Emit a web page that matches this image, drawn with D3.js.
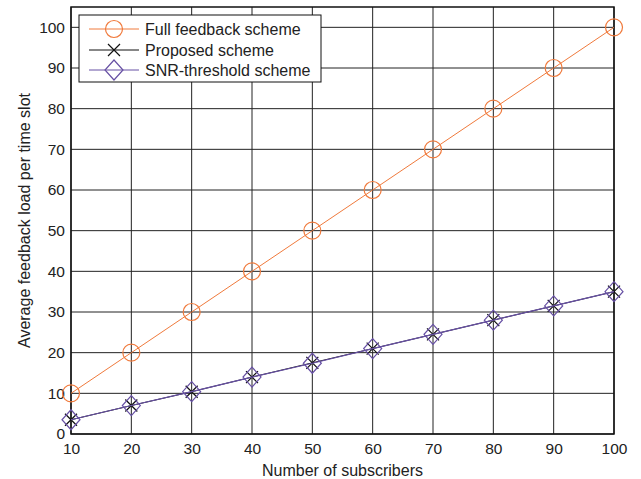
<!DOCTYPE html>
<html><head><meta charset="utf-8">
<script src="https://cdn.jsdelivr.net/npm/d3@7"></script>
<style>body{margin:0;background:#fff}text{font-family:"Liberation Sans",Arial,sans-serif}</style>
</head><body><svg id="c" width="641" height="479"></svg>
<script>
const subscribers = [10,20,30,40,50,60,70,80,90,100];
const fullFeedback = [10,20,30,40,50,60,70,80,90,100];
const proposed = [3.5,7,10.4,14,17.5,21,24.5,28,31.5,35];
const snrThreshold = [3.5,7,10.4,14,17.4,21,24.5,28,31.5,35];
const xTicks = [10,20,30,40,50,60,70,80,90,100];
const yTicks = [0,10,20,30,40,50,60,70,80,90,100];
const seriesNames = ["Full feedback scheme","Proposed scheme","SNR-threshold scheme"];

const svg = d3.select("#c");
const L=71,R=614,T=7,B=434;
const x = d3.scaleLinear().domain([10,100]).range([L,R]);
const y = d3.scaleLinear().domain([0,105]).range([B,T]);
const orange="#f07a3c", purple="#6750a4", black="#111";

svg.append("rect").attr("x",0).attr("y",0).attr("width",641).attr("height",479).attr("fill","#fff");
// grid
const g = svg.append("g");
g.selectAll(".gx").data(xTicks).join("line").attr("x1",d=>x(d)).attr("x2",d=>x(d)).attr("y1",T).attr("y2",B).attr("stroke","#222").attr("stroke-width",1);
g.selectAll(".gy").data(yTicks).join("line").attr("x1",L).attr("x2",R).attr("y1",d=>y(d)).attr("y2",d=>y(d)).attr("stroke","#222").attr("stroke-width",1);
// axes
const xa = svg.append("g").attr("transform",`translate(0,${B})`).call(d3.axisBottom(x).tickValues(xTicks).tickSize(0).tickPadding(9));
const ya = svg.append("g").attr("transform",`translate(${L},0)`).call(d3.axisLeft(y).tickValues(yTicks).tickSize(0).tickPadding(6));
[xa,ya].forEach(a=>{a.select(".domain").remove();a.selectAll("text").attr("font-size",15.5).attr("fill","#222").attr("font-family","Liberation Sans, Arial, sans-serif");});
svg.append("rect").attr("x",L).attr("y",T).attr("width",R-L).attr("height",B-T).attr("fill","none").attr("stroke","#111").attr("stroke-width",1.5);

const line = d3.line().x((d,i)=>x(subscribers[i])).y(d=>y(d));
function cross(sel,cx,cy,s){sel.append("path").attr("d",`M${cx-s},${cy-s}L${cx+s},${cy+s}M${cx-s},${cy+s}L${cx+s},${cy-s}`).attr("stroke",black).attr("stroke-width",1.2).attr("fill","none");}
function diamond(sel,cx,cy){sel.append("path").attr("d",`M${cx},${cy-10}L${cx+9},${cy}L${cx},${cy+10}L${cx-9},${cy}Z`).attr("stroke",purple).attr("stroke-width",1.2).attr("fill","none");}
function circ(sel,cx,cy){sel.append("circle").attr("cx",cx).attr("cy",cy).attr("r",8.5).attr("stroke",orange).attr("stroke-width",1.2).attr("fill","none");}

const p = svg.append("g");
p.append("path").attr("d",line(fullFeedback)).attr("stroke",orange).attr("stroke-width",1).attr("fill","none");
fullFeedback.forEach((v,i)=>circ(p,x(subscribers[i]),y(v)));
p.append("path").attr("d",line(proposed)).attr("stroke",black).attr("stroke-width",1).attr("fill","none");
proposed.forEach((v,i)=>cross(p,x(subscribers[i]),y(v),6));
p.append("path").attr("d",line(snrThreshold)).attr("stroke",purple).attr("stroke-width",1.2).attr("fill","none");
snrThreshold.forEach((v,i)=>diamond(p,x(subscribers[i]),y(v)));

// legend
const lg = svg.append("g");
lg.append("rect").attr("x",79).attr("y",15).attr("width",242).attr("height",67).attr("fill","#fff").attr("stroke","#111").attr("stroke-width",1);
const ly=[29,50,70];
const cols=[orange,black,purple];
seriesNames.forEach((n,i)=>{
  lg.append("line").attr("x1",89).attr("x2",139).attr("y1",ly[i]).attr("y2",ly[i]).attr("stroke",cols[i]).attr("stroke-width",1);
  if(i===0) circ(lg,114,ly[i]); else if(i===1) cross(lg,114,ly[i],6); else diamond(lg,114,ly[i]);
  lg.append("text").attr("x",145).attr("y",ly[i]+6).attr("font-size",16).attr("fill","#222").text(n);
});
svg.append("text").attr("x",(L+R)/2).attr("y",476).attr("text-anchor","middle").attr("font-size",16).attr("fill","#222").text("Number of subscribers");
svg.append("text").attr("transform",`translate(30,${(T+B)/2}) rotate(-90)`).attr("text-anchor","middle").attr("font-size",16).attr("fill","#222").text("Average feedback load per time slot");
</script></body></html>
